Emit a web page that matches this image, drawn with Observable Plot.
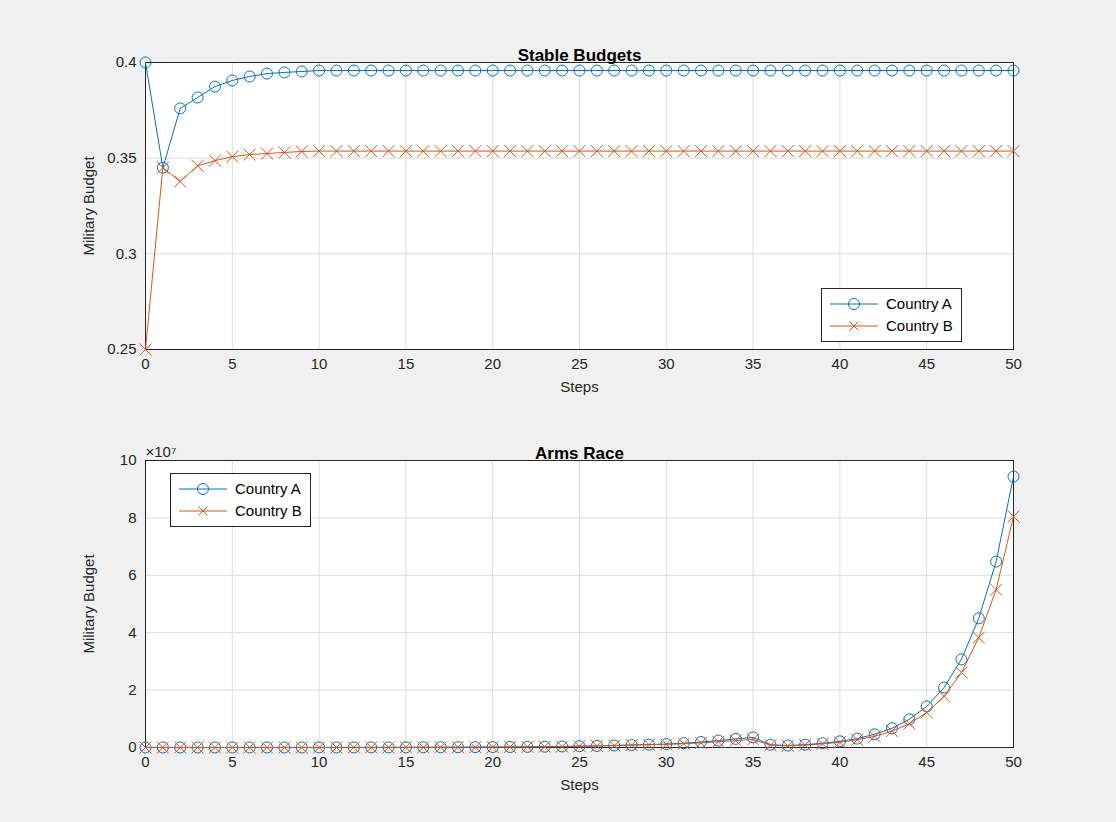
<!DOCTYPE html>
<html><head><meta charset="utf-8">
<script src="https://cdn.jsdelivr.net/npm/d3@7"></script>
<script src="https://cdn.jsdelivr.net/npm/@observablehq/plot@0.6"></script>
<style>
body{margin:0;background:#f0f0f0;font-family:"Liberation Sans",Arial,sans-serif}
#wrap{position:relative;width:1116px;height:822px}
#wrap svg{display:block;background:transparent}
.leg{position:absolute;background:#fff;border:1px solid #262626;font-size:15px;padding:4px 8px;line-height:22px}
.leg div{display:flex;align-items:center;gap:8px}
</style></head><body>
<div id="wrap"></div>
<script>
const steps = d3.range(0, 51);
const stableA = [0.4,0.345,0.376,0.3817,0.3874,0.3906,0.3927,0.3942,0.3948,0.3953].concat(Array(41).fill(0.3958));
const stableB = [0.25,0.345,0.3378,0.346,0.3487,0.3508,0.3519,0.3524,0.353,0.3535].concat(Array(41).fill(0.3537));
const raceA = [0,1e3,2e3,3e3,4e3,5e3,6e3,8e3,1e4,1.2e4,1.5e4,2e4,2.5e4,3e4,4e4,5e4,6e4,8e4,1e5,1.2e4*10,1.5e5,1.8e5,2.2e5,2.8e5,3.5e5,4.5e5,5.5e5,7e5,8.5e5,1e6,1.2e6,1.5e6,1.9e6,2.4e6,3e6,5e5*7,4.8e5*2,6.9e5,1.0e6,1.47e6,2.15e6,3.1e6,4.6e6,6.7e6,9.8e6,1.43e7,2.09e7,3.07e7,4.5e7,6.48e7,9.44e7];
const raceB = [0,1e3,2e3,3e3,4e3,5e3,6e3,8e3,1e4,1.2e4,1.5e4,2e4,2.5e4,3e4,4e4,5e4,6e4,8e4,1e5,1.2e5,1.5e5,1.8e5,2.2e5,2.8e5,3.5e5,4.5e5,5.5e5,7e5,8.5e5,1e6,1.1e6,1.3e6,1.6e6,2e6,2.4e6,2.8e6,4e5*2,5.8e5,8.5e5,1.25e6,1.8e6,2.7e6,3.9e6,5.7e6,8.3e6,1.22e7,1.78e7,2.61e7,3.83e7,5.5e7,8.05e7];

const cA = "#0072BD", cB = "#D95319";
const wrap = d3.select("#wrap");

function panel(a, b, o) {
  const rows = steps.map((s, i) => ({s, a: a[i], b: b[i]}));
  return Plot.plot({
    width: 1116, height: 411,
    marginLeft: 145, marginRight: 103, marginTop: o.mt, marginBottom: 411 - o.mt - 287,
    style: {fontFamily: "Liberation Sans, Arial, sans-serif", fontSize: "15px", color: "#262626", background: "transparent"},
    x: {domain: [0, 50], ticks: d3.range(0, 51, 5), grid: true, label: "Steps", labelAnchor: "center", labelArrow: "none", tickSize: 0, labelOffset: 42},
    y: {domain: o.domain, ticks: o.ticks, grid: true, label: "Military Budget", labelAnchor: "center", labelArrow: "none", tickSize: 0, tickFormat: o.fmt, labelOffset: 62},
    marks: [
      Plot.frame({fill: "white", stroke: "none"}),
      Plot.gridX({ticks: d3.range(0, 51, 5), stroke: "#dcdcdc", strokeOpacity: 1}),
      Plot.gridY({ticks: o.ticks, stroke: "#dcdcdc", strokeOpacity: 1}),
      Plot.frame({stroke: "#262626"}),
      Plot.line(rows, {x: "s", y: "a", stroke: cA, strokeWidth: 1}),
      Plot.dot(rows, {x: "s", y: "a", stroke: cA, r: 5.5, strokeWidth: 1}),
      Plot.line(rows, {x: "s", y: "b", stroke: cB, strokeWidth: 1}),
      Plot.dot(rows, {x: "s", y: "b", stroke: cB, symbol: "times", r: 5.5, strokeWidth: 1}),
      Plot.text([o.title], {frameAnchor: "top", dy: -14, fontWeight: "bold", fontSize: 17, fill: "#000"}),
      o.exp ? Plot.text(["×10⁷"], {frameAnchor: "top-left", dy: -14, dx: 0, fontSize: 15, textAnchor: "start"}) : null
    ].filter(Boolean)
  });
}

wrap.append(() => panel(stableA, stableB, {mt: 62, domain: [0.25, 0.4], ticks: [0.25, 0.3, 0.35, 0.4], fmt: d => d3.format("")(d), title: "Stable Budgets"}));
wrap.append(() => panel(raceA, raceB, {mt: 49, domain: [0, 1e8], ticks: d3.range(0, 1.01e8, 2e7), fmt: d => d / 1e7, title: "Arms Race", exp: true}));

function legend(left, top) {
  wrap.append("div").attr("class", "leg").style("left", left + "px").style("top", top + "px").html(
    `<div><svg width="48" height="14"><line x1="0" x2="48" y1="7" y2="7" stroke="${cA}"/><circle cx="24" cy="7" r="5.5" fill="none" stroke="${cA}"/></svg>Country A</div>
     <div><svg width="48" height="14"><line x1="0" x2="48" y1="7" y2="7" stroke="${cB}"/><path d="M19.5 2.5L28.5 11.5M28.5 2.5L19.5 11.5" stroke="${cB}"/></svg>Country B</div>`);
}
legend(821, 288);
legend(170, 473);
</script>
</body></html>
